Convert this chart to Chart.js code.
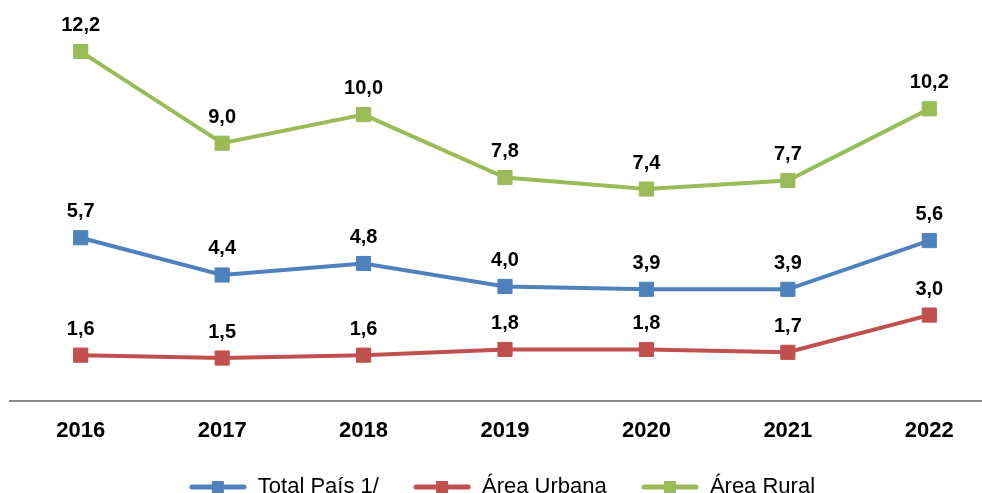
<!DOCTYPE html>
<html>
<head>
<meta charset="utf-8">
<script src="https://cdn.jsdelivr.net/npm/chart.js@4"></script>
<style>
  html, body { margin: 0; padding: 0; background: #fff; overflow: hidden; }
  #wrap { width: 1010px; height: 493px; }
</style>
</head>
<body>
<div id="wrap"><canvas id="theChart" width="1010" height="493"></canvas></div>
<script>
// ---- Data ----
const years = ['2016', '2017', '2018', '2019', '2020', '2021', '2022'];
const totalPais = [5.7, 4.4, 4.8, 4.0, 3.9, 3.9, 5.6];
const areaUrbana = [1.6, 1.5, 1.6, 1.8, 1.8, 1.7, 3.0];
const areaRural = [12.2, 9.0, 10.0, 7.8, 7.4, 7.7, 10.2];
const seriesNames = ['Total País 1/', 'Área Urbana', 'Área Rural'];
const palette = ['#4F81BD', '#C0504D', '#9BBB59'];

const FONT = '"Liberation Sans", Arial, sans-serif';

// legend marker: line with a square in the middle
function legendIcon(color) {
  const c = document.createElement('canvas');
  c.width = 58; c.height = 16;
  const g = c.getContext('2d');
  g.strokeStyle = color;
  g.lineWidth = 5;
  g.lineCap = 'round';
  g.beginPath(); g.moveTo(3, 8); g.lineTo(55, 8); g.stroke();
  g.fillStyle = color;
  g.fillRect(23, 2, 12, 12);
  return c;
}

// values above each point, comma decimals
const valueLabels = {
  id: 'valueLabels',
  afterDatasetsDraw(chart) {
    const ctx = chart.ctx;
    ctx.save();
    ctx.font = 'bold 20px ' + FONT;
    ctx.fillStyle = '#000';
    ctx.textAlign = 'center';
    ctx.textBaseline = 'middle';
    chart.data.datasets.forEach((ds, i) => {
      chart.getDatasetMeta(i).data.forEach((pt, j) => {
        ctx.fillText(ds.data[j].toFixed(1).replace('.', ','), pt.x, pt.y - 26);
      });
    });
    ctx.restore();
  }
};

function makeDataset(label, data, color) {
  return {
    label: label,
    data: data,
    borderColor: color,
    backgroundColor: color,
    borderWidth: 4,
    pointStyle: 'rect',
    pointRadius: 10,
    pointBorderWidth: 1,
    tension: 0
  };
}

const ctx = document.getElementById('theChart').getContext('2d');
new Chart(ctx, {
  type: 'line',
  data: {
    labels: years,
    datasets: [
      makeDataset(seriesNames[0], totalPais, palette[0]),
      makeDataset(seriesNames[1], areaUrbana, palette[1]),
      makeDataset(seriesNames[2], areaRural, palette[2])
    ]
  },
  options: {
    responsive: false,
    animation: false,
    layout: { autoPadding: false, padding: { left: 10, right: 10, top: 0, bottom: -15 } },
    scales: {
      x: {
        offset: true,
        grid: { display: false, drawTicks: false },
        border: { display: true, color: '#888', width: 2 },
        ticks: { color: '#000', padding: 17, font: { family: FONT, size: 22, weight: 'bold' } },
        afterFit(scale) { scale.height = 47; }
      },
      y: { display: false, min: 0, max: 14 }
    },
    plugins: {
      tooltip: { enabled: false },
      legend: {
        position: 'bottom',
        labels: {
          usePointStyle: true,
          pointStyleWidth: 58,
          padding: 28,
          color: '#000',
          font: { family: FONT, size: 22 },
          generateLabels(chart) {
            return chart.data.datasets.map((ds, i) => ({
              text: ds.label + ' ', // a bit more room between items
              pointStyle: legendIcon(palette[i]),
              fillStyle: palette[i],
              strokeStyle: palette[i],
              lineWidth: 0,
              hidden: false,
              datasetIndex: i
            }));
          }
        }
      }
    }
  },
  plugins: [valueLabels]
});
</script>
</body>
</html>
